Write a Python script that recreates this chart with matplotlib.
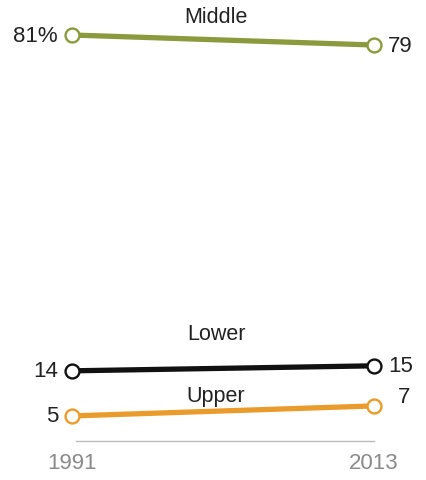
import matplotlib.pyplot as plt

# Data
years = [1991, 2013]
middle = [81, 79]
lower = [14, 15]
upper = [5, 7]
names = ['Middle', 'Lower', 'Upper']
colors = ['#8c9a3e', '#111111', '#e99c2c']

plt.rcParams['font.family'] = ['Liberation Sans', 'DejaVu Sans']

fig = plt.figure(figsize=(4.27, 4.81), dpi=100)
# axes placed so that 1991..2013 spans px 72..374 and 0..81 spans px 442..36
ax = fig.add_axes([72 / 427, 39 / 481, 302 / 427, 406 / 481])
ax.set_xlim(1991, 2013)
ax.set_ylim(0, 81)

series = [middle, lower, upper]
for vals, c in zip(series, colors):
    ax.plot(years, vals, color=c, lw=3.8, marker='o', ms=10,
            mfc='white', mec=c, mew=1.7, clip_on=False, zorder=3)

# end value labels
ax.annotate('81%', (years[0], middle[0]), xytext=(-10, 0), textcoords='offset points',
            ha='right', va='center', fontsize=16, color='#222222')
ax.annotate('79', (years[1], middle[1]), xytext=(10, 0), textcoords='offset points',
            ha='left', va='center', fontsize=16, color='#222222')
ax.annotate('14', (years[0], lower[0]), xytext=(-10, 0), textcoords='offset points',
            ha='right', va='center', fontsize=16, color='#222222')
ax.annotate('15', (years[1], lower[1]), xytext=(10, 0), textcoords='offset points',
            ha='left', va='center', fontsize=16, color='#222222')
ax.annotate('5', (years[0], upper[0]), xytext=(-10, 0), textcoords='offset points',
            ha='right', va='center', fontsize=16, color='#222222')
ax.annotate('7', (years[1], upper[1]), xytext=(17, 7), textcoords='offset points',
            ha='left', va='center', fontsize=16, color='#222222')

# series names
ax.text(2001.5, 84.6, names[0], ha='center', va='center', fontsize=15.5, color='#222222')
ax.text(2001.5, 21.4, names[1], ha='center', va='center', fontsize=15.5, color='#222222')
ax.text(2001.5, 9.0, names[2], ha='center', va='center', fontsize=15.5, color='#222222')

# axis styling
for s in ['top', 'right', 'left']:
    ax.spines[s].set_visible(False)
ax.spines['bottom'].set_color('#bbbbbb')
ax.spines['bottom'].set_linewidth(1)
ax.spines['bottom'].set_bounds(1991.3, 2013)
ax.set_yticks([])
ax.set_xticks(years)
ax.set_xticklabels([str(y) for y in years])
ax.tick_params(axis='x', length=0, pad=8, labelsize=16, labelcolor='#8a8a8a')

fig.savefig('out.png', dpi=100)
